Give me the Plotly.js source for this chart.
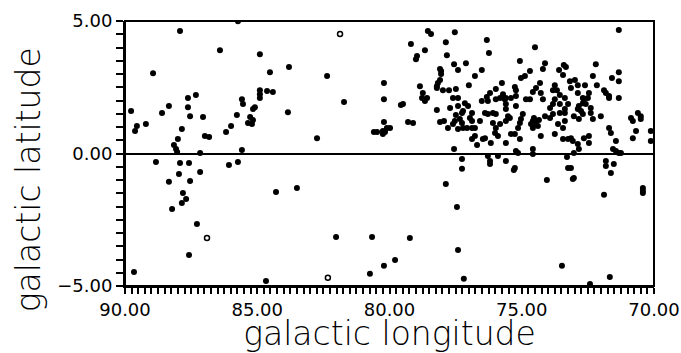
<!DOCTYPE html>
<html><head><meta charset="utf-8">
<script src="https://cdn.plot.ly/plotly-3.0.1.min.js"></script>
<style>html,body{margin:0;padding:0;background:#fff}</style>
</head><body><div id="chart" style="width:681px;height:353px"></div>
<script>
// galactic longitude / latitude of the sources (degrees)
const lon = [
85.73,87.92,86.41,88.94,87.32,87.62,88.34,88.60,87.62,87.54,87.05,89.77,89.55,89.62,89.21,87.85,88.00,88.15,88.07,88.03,
87.16,86.98,86.82,86.18,85.99,85.77,88.83,87.92,87.58,87.96,87.16,86.07,85.73,88.34,87.54,87.81,88.22,87.85,87.69,87.28,
87.58,89.66,84.90,84.52,83.80,82.36,81.72,82.74,83.84,84.90,84.90,84.90,84.63,84.41,85.58,85.54,85.09,85.16,85.27,85.16,
85.35,85.20,85.58,80.21,80.21,79.49,79.57,79.30,79.11,80.21,80.10,79.98,80.25,80.25,80.59,80.47,80.17,79.19,78.55,78.43,
78.66,78.96,79.00,78.85,78.74,78.77,78.58,78.66,78.21,78.09,77.94,77.79,77.53,77.87,77.83,77.56,77.41,78.09,78.05,78.05,
78.09,78.17,78.21,78.21,77.98,77.75,77.49,77.60,77.41,77.71,77.41,77.49,77.56,77.11,76.51,76.77,77.00,77.15,77.03,77.26,
77.22,76.88,76.51,77.53,77.60,77.34,77.26,76.96,76.88,76.58,77.41,77.22,77.07,76.88,76.77,76.77,76.88,76.47,76.69,77.26,
77.26,76.32,76.24,74.50,75.07,74.12,74.20,74.69,73.59,73.41,73.33,74.88,75.03,73.44,75.75,75.98,75.26,75.22,74.31,74.46,
74.58,73.75,73.82,73.67,73.56,73.18,76.20,76.32,75.71,75.82,75.60,75.41,75.22,74.84,74.28,74.20,73.37,71.33,72.20,72.31,
71.59,71.33,71.33,72.99,72.88,72.61,72.16,73.14,72.46,72.88,71.89,71.82,71.70,72.69,72.50,71.33,76.28,75.98,75.64,75.60,
75.60,75.22,74.69,73.75,73.82,73.93,73.56,73.37,73.25,76.39,76.28,76.09,75.98,75.52,75.60,75.45,74.96,75.03,75.07,75.14,
74.58,74.46,74.50,74.39,74.58,74.54,74.35,74.65,74.12,73.93,73.82,73.56,73.37,73.63,73.44,73.37,76.09,75.98,76.01,75.90,
75.82,75.41,75.26,75.07,76.39,76.17,75.60,74.28,73.75,73.44,73.25,75.22,75.14,74.58,74.58,76.28,76.20,76.20,75.90,75.60,
75.26,73.25,72.65,72.69,72.58,72.84,72.88,72.76,72.69,72.39,72.39,73.03,72.84,72.31,72.01,71.70,70.61,70.50,70.87,70.80,
70.50,70.68,70.80,70.12,70.12,71.70,71.63,73.14,73.07,72.65,72.46,72.46,72.88,72.84,71.44,71.55,71.44,71.33,71.25,73.03,
71.82,71.82,71.52,71.63,73.14,73.29,73.03,74.05,73.07,75.30,71.89,70.42,70.42,70.42,77.45,77.41,77.19,73.48,72.42,71.67,
84.29,83.50,82.02,80.66,79.23,79.79,80.21,80.74,84.67,77.87
];
const lat = [
4.99,4.62,3.90,3.03,2.21,2.09,1.79,1.53,1.75,1.41,1.38,1.60,1.04,0.85,1.11,0.92,0.55,0.32,0.17,0.06,
0.02,0.66,0.62,0.81,1.04,1.45,-0.32,-0.36,-0.36,-0.77,-0.70,-0.43,-0.32,-1.07,-1.04,-1.49,-2.09,-1.87,-1.72,-2.66,
-3.83,-4.47,3.75,3.07,3.26,2.92,1.94,0.58,1.56,2.39,2.24,2.09,2.36,2.32,2.05,1.87,1.75,1.68,1.38,1.26,
1.15,1.11,0.13,2.66,2.05,1.87,1.83,1.19,1.15,1.19,0.96,0.96,0.85,0.74,0.81,0.81,0.81,4.13,4.62,4.51,
3.90,3.68,3.56,2.54,2.28,2.09,2.09,1.98,1.64,1.19,1.23,0.96,4.58,4.20,3.71,3.37,3.15,3.19,3.11,3.00,
2.77,2.66,2.54,2.47,2.39,2.39,2.43,2.09,2.09,1.72,1.79,1.45,0.17,3.41,3.15,2.92,2.58,1.90,1.79,1.53,
1.60,1.53,1.98,1.23,1.11,1.30,1.15,1.34,1.23,1.23,0.92,0.96,0.96,0.96,0.96,0.66,0.55,0.55,0.32,-0.21,
-0.58,4.28,3.79,4.01,3.49,3.41,3.19,3.11,3.15,3.34,3.26,2.92,2.85,2.96,2.66,2.43,2.51,2.39,2.66,2.47,
2.32,2.58,2.39,2.39,2.21,2.73,2.28,2.13,2.24,2.09,2.09,2.09,2.17,2.05,2.28,2.05,2.09,4.66,3.37,2.92,
2.85,3.07,2.73,2.77,2.58,2.58,2.58,2.47,2.28,2.28,2.39,2.28,2.17,2.09,2.09,2.09,1.98,2.05,2.05,1.87,
1.68,1.79,2.05,2.05,1.87,1.72,1.87,1.68,1.87,1.53,1.49,1.53,1.49,1.41,1.23,1.34,1.49,1.30,1.15,0.96,
1.23,1.23,1.11,1.04,0.96,1.34,1.26,1.11,1.41,1.34,1.49,1.53,1.53,1.11,0.96,1.23,1.15,0.96,0.77,0.66,
1.11,0.74,0.74,0.55,0.58,0.40,0.40,0.66,0.74,0.55,0.55,0.09,0.02,0.17,-0.02,-0.09,-0.28,-0.40,-0.09,-0.28,
-0.55,-0.55,2.05,1.90,1.87,1.79,1.68,1.60,1.49,1.72,1.53,1.41,1.30,1.30,1.41,2.09,1.53,1.41,1.34,1.23,
1.30,0.85,0.58,0.85,0.47,0.96,0.77,0.58,0.47,0.58,0.66,0.40,0.36,0.17,0.47,0.17,0.09,0.02,0.02,0.02,
-0.28,-0.47,-0.40,-0.74,-0.55,-0.13,-0.92,-1.00,-0.96,-0.62,-1.56,-1.30,-1.41,-1.49,-2.02,-3.64,-4.73,-4.24,-4.92,-4.66,
-1.45,-1.30,-3.15,-3.15,-3.19,-4.02,-4.24,-4.54,-4.81,-1.15
];
// sources drawn as open markers
const lonOpen = [81.87, 86.90, 82.33];
const latOpen = [4.51, -3.19, -4.69];

const xTickVals = [90, 85, 80, 75, 70];
const xTickText = ['90.00', '85.00', '80.00', '75.00', '70.00'];
const yTickVals = [-5, 0, 5];
const yTickText = ['\u22125.00', '0.00', '5.00'];
const xTitle = 'galactic longitude';
const yTitle = 'galactic latitude';

const FONT = 'DejaVu Sans, Liberation Sans, sans-serif';

const traces = [
  {x: lon, y: lat, type: 'scatter', mode: 'markers',
   marker: {symbol: 'circle', size: 6, color: '#000'}, hoverinfo: 'x+y'},
  {x: lonOpen, y: latOpen, type: 'scatter', mode: 'markers',
   marker: {symbol: 'circle-open', size: 5, color: '#000', line: {width: 1.5, color: '#000'}}, hoverinfo: 'x+y'}
];

const layout = {
  width: 681, height: 353, autosize: false,
  margin: {l: 125, r: 27, t: 21, b: 67},
  paper_bgcolor: '#fff', plot_bgcolor: '#fff',
  showlegend: false,
  font: {family: FONT, color: '#000'},
  xaxis: {
    range: [90, 70], tickmode: 'array', tickvals: xTickVals, ticktext: xTickText,
    ticks: 'outside', ticklen: 6, tickwidth: 2, tickcolor: 'black',
    minor: {dtick: 0.25, ticks: 'outside', ticklen: 6, tickwidth: 2, tickcolor: 'black'},
    showline: true, linewidth: 2, linecolor: 'black',
    showgrid: false, zeroline: false,
    tickfont: {family: FONT, size: 18, color: '#000'},
    title: {text: xTitle, font: {family: FONT, size: 33, color: '#000', weight: 200}, standoff: 14}
  },
  yaxis: {
    range: [-5, 5], tickmode: 'array', tickvals: yTickVals, ticktext: yTickText,
    ticks: 'outside', ticklen: 7, tickwidth: 2, tickcolor: 'black',
    minor: {dtick: 0.5, ticks: 'outside', ticklen: 7, tickwidth: 2, tickcolor: 'black'},
    showline: true, linewidth: 2, linecolor: 'black',
    showgrid: false, zeroline: true, zerolinecolor: '#000', zerolinewidth: 2,
    ticksuffix: '\u00a0\u00a0',
    tickfont: {family: FONT, size: 18, color: '#000'}
  },
  shapes: [
    {type: 'rect', xref: 'paper', yref: 'paper', x0: 0, x1: 1, y0: 0, y1: 1,
     line: {color: 'black', width: 2}, fillcolor: 'rgba(0,0,0,0)', layer: 'above'}
  ],
  annotations: [
    {text: yTitle, textangle: -90, xref: 'paper', yref: 'paper', x: -0.183, y: 0.40,
     xanchor: 'center', yanchor: 'middle', showarrow: false,
     font: {family: FONT, size: 33, color: '#000', weight: 200}}
  ]
};

Plotly.newPlot('chart', traces, layout, {displayModeBar: false});
</script>
</body></html>
